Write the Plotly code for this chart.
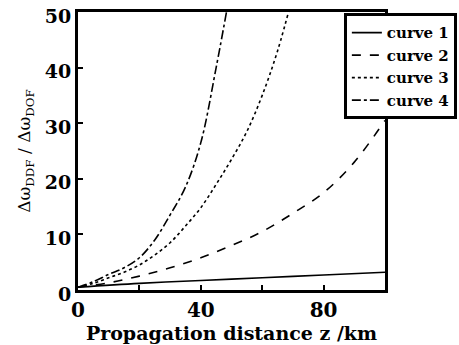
import plotly.graph_objects as go

z1 = [0, 20, 40, 60, 80, 100]
curve1 = [0.5, 1.2, 1.7, 2.2, 2.7, 3.2]

z2 = [0, 10, 20, 30, 40, 50, 60, 70, 80, 90, 100]
curve2 = [0.5, 1.3, 2.5, 4.0, 5.8, 8.0, 10.5, 13.8, 17.5, 23.0, 30.5]

z3 = [0, 5, 10, 15, 20, 25, 30, 35, 40, 45, 50, 55, 60, 65, 70]
curve3 = [0.5, 1.2, 2.2, 3.2, 4.5, 6.3, 8.5, 11.5, 14.8, 19.0, 23.5, 28.5, 35.0, 43.0, 53.0]

z4 = [0, 5, 10, 15, 20, 25, 30, 35, 40, 45, 50]
curve4 = [0.5, 1.5, 2.8, 4.0, 5.8, 9.0, 13.5, 18.5, 26.5, 40.0, 55.0]

names = ["curve 1", "curve 2", "curve 3", "curve 4"]
dashes = ["solid", "dash", "dot", "dashdot"]

font = "DejaVu Serif"
fig = go.Figure()
for zz, yy, nm, ds in zip([z1, z2, z3, z4], [curve1, curve2, curve3, curve4], names, dashes):
    fig.add_trace(go.Scatter(x=zz, y=yy, mode="lines", name=nm,
                             line=dict(color="black", width=1.6, dash=ds, shape="spline")))

fig.update_layout(
    width=459, height=345,
    margin=dict(l=78, r=74, t=12, b=55, autoexpand=False),
    paper_bgcolor="white", plot_bgcolor="white",
    font=dict(family=font, color="black", size=18),
    showlegend=True,
    legend=dict(x=0.866, y=0.995, xanchor="left", yanchor="top",
                bordercolor="black", borderwidth=3, bgcolor="white",
                font=dict(family=font, size=15, color="black", weight="bold"),
                tracegroupgap=0, itemwidth=30),
    xaxis=dict(range=[0, 100], tickvals=[0, 20, 40, 60, 80, 100],
               ticktext=["0", "", "40", "", "80", ""],
               ticks="inside", ticklen=5, tickwidth=2, tickcolor="black",
               showline=True, linecolor="black", linewidth=3, mirror=True,
               showgrid=False, zeroline=False,
               tickfont=dict(family=font, size=20, color="black", weight="bold"),
               title=dict(text="<b>Propagation distance z /km</b>",
                          font=dict(family=font, size=19, color="black"), standoff=4)),
    yaxis=dict(range=[0, 50], tickvals=[0, 10, 20, 30, 40, 50],
               ticks="inside", ticklen=5, tickwidth=2, tickcolor="black",
               showline=True, linecolor="black", linewidth=3, mirror=True,
               showgrid=False, zeroline=False, ticklabelshift=4,
               ticklabeloverflow="allow",
               tickfont=dict(family=font, size=19, color="black", weight="bold"),
               title=dict(text="Δω<sub>DDF</sub> / Δω<sub>DOF</sub>",
                          font=dict(family=font, size=17, color="black"), standoff=10)),
)

# Remove the browser's default 8px page margin so the figure fills the window exactly.
fig.write_html("out.html", config={"displayModeBar": False},
               post_script="document.body.style.margin='0';")
